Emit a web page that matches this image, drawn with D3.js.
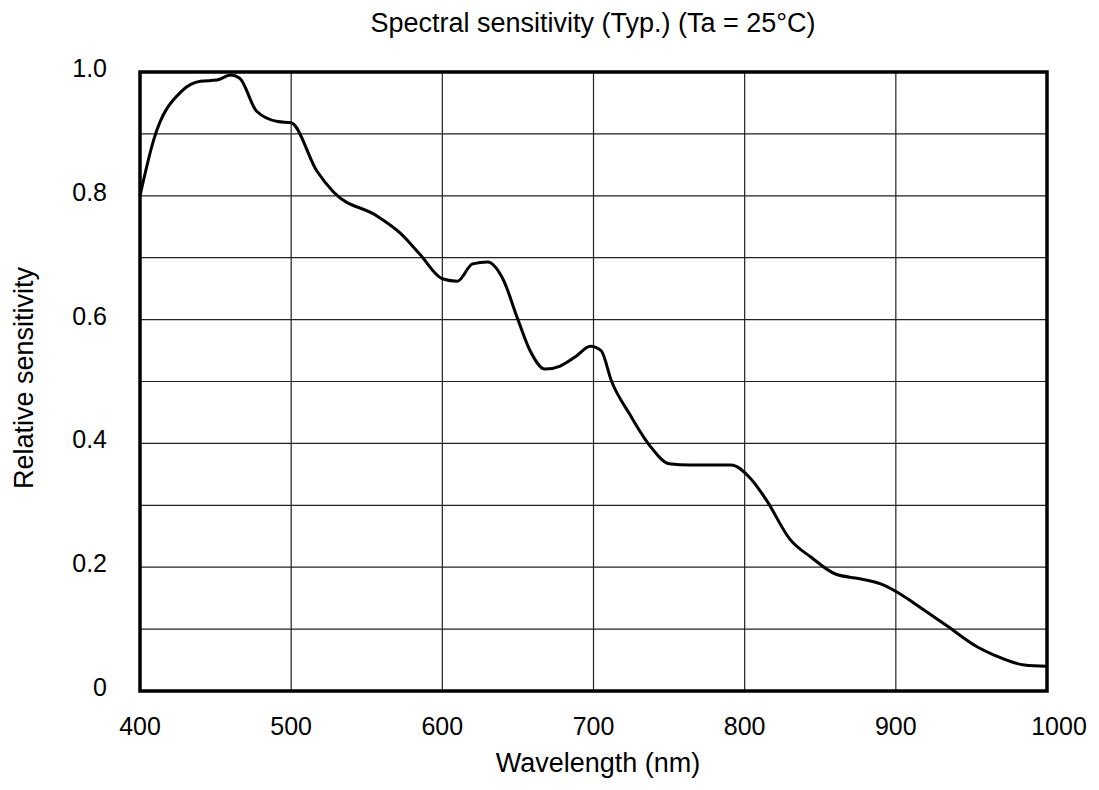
<!DOCTYPE html>
<html><head><meta charset="utf-8">
<script src="https://cdn.jsdelivr.net/npm/d3@7"></script>
<style>body{margin:0;background:#fff}svg{display:block}text{font-family:"Liberation Sans",Arial,sans-serif;fill:#000}</style>
</head><body><svg id="c" width="1099" height="790"></svg>
<script>
const wavelength = [400,409,428,440,451,460,466,477,491,500,517,528,557,572,585,600,610,620,630,640,650,658,668,678,688,698,705,712,724,738,750,764,791,804,814,830,844,860,877,890,906,915,934,954,965,985,1000];
const sensitivity = [0.80,0.89,0.97,0.985,0.987,0.995,0.99,0.937,0.92,0.918,0.84,0.806,0.767,0.74,0.706,0.666,0.662,0.69,0.693,0.666,0.6,0.55,0.52,0.525,0.54,0.557,0.55,0.50,0.447,0.394,0.367,0.365,0.365,0.343,0.31,0.245,0.216,0.189,0.181,0.173,0.152,0.137,0.105,0.071,0.058,0.042,0.04];
const xTicks = [400,500,600,700,800,900,1000];
const yTickLabels = ["0","0.2","0.4","0.6","0.8","1.0"];
const yGrid = [0.1,0.2,0.3,0.4,0.5,0.6,0.7,0.8,0.9];

const L=140,R=1047,T=72,B=691;
const svg=d3.select("#c");
const x=d3.scaleLinear().domain([400,1000]).range([L,R]);
const y=d3.scaleLinear().domain([0,1]).range([B,T]);

svg.append("g").selectAll("line").data(yGrid).join("line")
 .attr("x1",L).attr("x2",R).attr("y1",d=>y(d)).attr("y2",d=>y(d))
 .attr("stroke","#222").attr("stroke-width",1.2);
svg.append("g").selectAll("line").data(xTicks.slice(1,-1)).join("line")
 .attr("x1",d=>x(d)).attr("x2",d=>x(d)).attr("y1",T).attr("y2",B)
 .attr("stroke","#222").attr("stroke-width",1.2);

svg.append("path").datum(wavelength.map((w,i)=>[w,sensitivity[i]]))
 .attr("d",d3.line().x(d=>x(d[0])).y(d=>y(d[1])).curve(d3.curveMonotoneX))
 .attr("fill","none").attr("stroke","#000").attr("stroke-width",3).attr("stroke-linejoin","round");

svg.append("rect").attr("x",L).attr("y",T).attr("width",R-L).attr("height",B-T)
 .attr("fill","none").attr("stroke","#000").attr("stroke-width",3.5);

svg.append("g").selectAll("text").data(xTicks).join("text")
 .attr("x",d=>x(d)+(d===1000?12:0)).attr("y",735).attr("text-anchor","middle")
 .attr("font-size",25).text(d=>d);
svg.append("g").selectAll("text").data(yTickLabels).join("text")
 .attr("x",107).attr("y",d=>y(+d)+5).attr("text-anchor","end").attr("font-size",25).text(d=>d);

svg.append("text").attr("x",593).attr("y",32).attr("text-anchor","middle").attr("font-size",27)
 .text("Spectral sensitivity (Typ.) (Ta = 25°C)");
svg.append("text").attr("x",598).attr("y",772).attr("text-anchor","middle").attr("font-size",27)
 .text("Wavelength (nm)");
svg.append("text").attr("transform","translate(33,378) rotate(-90)").attr("text-anchor","middle").attr("font-size",27)
 .text("Relative sensitivity");
</script></body></html>
